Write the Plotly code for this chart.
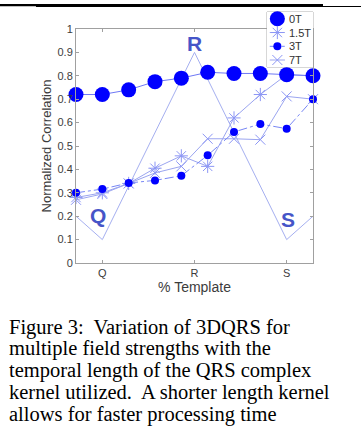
import plotly.graph_objects as go

x_idx = [1, 2, 3, 4, 5, 6, 7, 8, 9, 10]
template_x = [1, 2, 5.5, 9, 10]
template_y = [0.2, 0.1, 0.9, 0.1, 0.2]
t0 = [0.72, 0.72, 0.74, 0.775, 0.79, 0.815, 0.81, 0.81, 0.805, 0.80]
t15 = [0.28, 0.30, 0.34, 0.405, 0.458, 0.413, 0.62, 0.72, 0.805, 0.80]
t3 = [0.30, 0.316, 0.342, 0.353, 0.373, 0.46, 0.56, 0.594, 0.574, 0.70]
t7 = [0.27, 0.295, 0.34, 0.385, 0.413, 0.531, 0.531, 0.527, 0.712, 0.70]
series_names = ["0T", "1.5T", "3T", "7T"]
tick_vals = [2, 5.5, 9]
tick_text = ["Q", "R", "S"]
y_ticks = [0, 0.1, 0.2, 0.3, 0.4, 0.5, 0.6, 0.7, 0.8, 0.9, 1]
y_tick_text = ["0", "0.1", "0.2", "0.3", "0.4", "0.5", "0.6", "0.7", "0.8", "0.9", "1"]
letters = ["Q", "R", "S"]
letter_x = [1.85, 5.5, 9.05]
letter_y = [0.205, 0.94, 0.185]
caption = ["Figure 3:  Variation of 3DQRS for",
           "multiple field strengths with the",
           "temporal length of the QRS complex",
           "kernel utilized.  A shorter length kernel",
           "allows for faster processing time"]

W, H = 361, 439
PL, PR, PT, PB = 76, 313, 29, 263          # plot area in pixels
LX0, LX1, LY0, LY1 = 267, 313, 12, 67      # legend box in pixels


def px(x):
    return x / W


def py(y):
    return 1 - y / H


light = "rgb(155,165,240)"
star = "rgb(140,150,245)"
styles = [
    dict(line=dict(color="rgb(110,120,245)", width=1),
         marker=dict(color="rgb(0,0,255)", size=15)),
    dict(line=dict(color=light, width=1),
         marker=dict(symbol="asterisk-open", size=11, color=star,
                     line=dict(color=star, width=1))),
    dict(line=dict(color="rgb(120,135,245)", width=1, dash="dashdot"),
         marker=dict(color="rgb(0,0,255)", size=8)),
    dict(line=dict(color=light, width=1),
         marker=dict(symbol="x-thin-open", size=10, color=star,
                     line=dict(color=star, width=1))),
]
series = [t0, t15, t3, t7]

fig = go.Figure()
fig.add_trace(go.Scatter(x=template_x, y=template_y, mode="lines",
                         line=dict(color="rgb(165,175,240)", width=1),
                         showlegend=False, hoverinfo="skip"))
for k in [1, 3, 2, 0]:
    fig.add_trace(go.Scatter(x=x_idx, y=series[k], name=series_names[k], mode="lines+markers",
                             cliponaxis=False, showlegend=False, **styles[k]))

# manual legend (compact, like the original)
leg_y = [0.878, 0.627, 0.376, 0.127]
for name, ly, st in zip(series_names, leg_y, styles):
    fig.add_trace(go.Scatter(x=[0.06, 0.39], y=[ly, ly], mode="lines", xaxis="x2", yaxis="y2",
                             line=st["line"], showlegend=False, hoverinfo="skip"))
    fig.add_trace(go.Scatter(x=[0.225], y=[ly], mode="markers", xaxis="x2", yaxis="y2",
                             marker=st["marker"], showlegend=False, hoverinfo="skip",
                             cliponaxis=False))
    fig.add_annotation(xref="paper", yref="paper", x=px(287),
                       y=py(LY1 - ly * (LY1 - LY0)), xanchor="left", yanchor="middle",
                       text=name, showarrow=False,
                       font=dict(family="Liberation Sans, Arial", size=11, color="rgb(50,50,50)"))
fig.add_shape(type="rect", xref="paper", yref="paper", layer="below",
              x0=px(LX0), x1=px(LX1), y0=py(LY1), y1=py(LY0),
              fillcolor="white", line=dict(color="rgb(175,175,175)", width=1))

for t, xx, yy in zip(letters, letter_x, letter_y):
    fig.add_annotation(x=xx, y=yy, text="<b>" + t + "</b>", showarrow=False,
                       font=dict(family="Liberation Sans, Arial", size=21,
                                 color="rgb(70,85,200)"))

for i, line in enumerate(caption):
    fig.add_annotation(xref="paper", yref="paper", x=px(7), y=py(327 + i * 21.8),
                       xanchor="left", yanchor="middle", text=line, showarrow=False,
                       font=dict(family="Liberation Serif, Times New Roman", size=20.5,
                                 color="black"))

# black rule at the top (cropped page header)
for x0, x1, y0, y1 in [(0, 36, 4, 6.3), (36, 323, 4, 7), (323, 361, 6, 7)]:
    fig.add_shape(type="rect", xref="paper", yref="paper",
                  x0=px(x0), x1=px(x1), y0=py(y1), y1=py(y0),
                  fillcolor="black", line=dict(width=0))

axcol = "rgb(160,160,160)"
fig.update_layout(
    width=W, height=H,
    margin=dict(l=0, r=0, t=0, b=0),
    paper_bgcolor="white", plot_bgcolor="white",
    font=dict(family="Liberation Sans, Arial", color="rgb(60,60,60)"),
    showlegend=False,
    xaxis=dict(domain=[px(PL), px(PR)], range=[1, 10], tickmode="array",
               tickvals=tick_vals, ticktext=tick_text, automargin=False,
               ticks="inside", ticklen=3, tickcolor=axcol, showline=True, linecolor=axcol,
               mirror="ticks", showgrid=False, zeroline=False,
               tickfont=dict(size=11),
               title=dict(text="% Template", font=dict(size=14), standoff=2)),
    yaxis=dict(domain=[py(PB), py(PT)], range=[0, 1], tickmode="array",
               tickvals=y_ticks, ticktext=y_tick_text, automargin=False,
               ticks="inside", ticklen=3, tickcolor=axcol, showline=True, linecolor=axcol,
               mirror="ticks", showgrid=False, zeroline=False,
               tickfont=dict(size=11),
               title=dict(text="Normalized Correlation", font=dict(size=13), standoff=2)),
    xaxis2=dict(domain=[px(LX0), px(LX1)], range=[0, 1], anchor="y2", visible=False,
                fixedrange=True),
    yaxis2=dict(domain=[py(LY1), py(LY0)], range=[0, 1], anchor="x2", visible=False,
                fixedrange=True),
)
fig.write_html("out.html")
